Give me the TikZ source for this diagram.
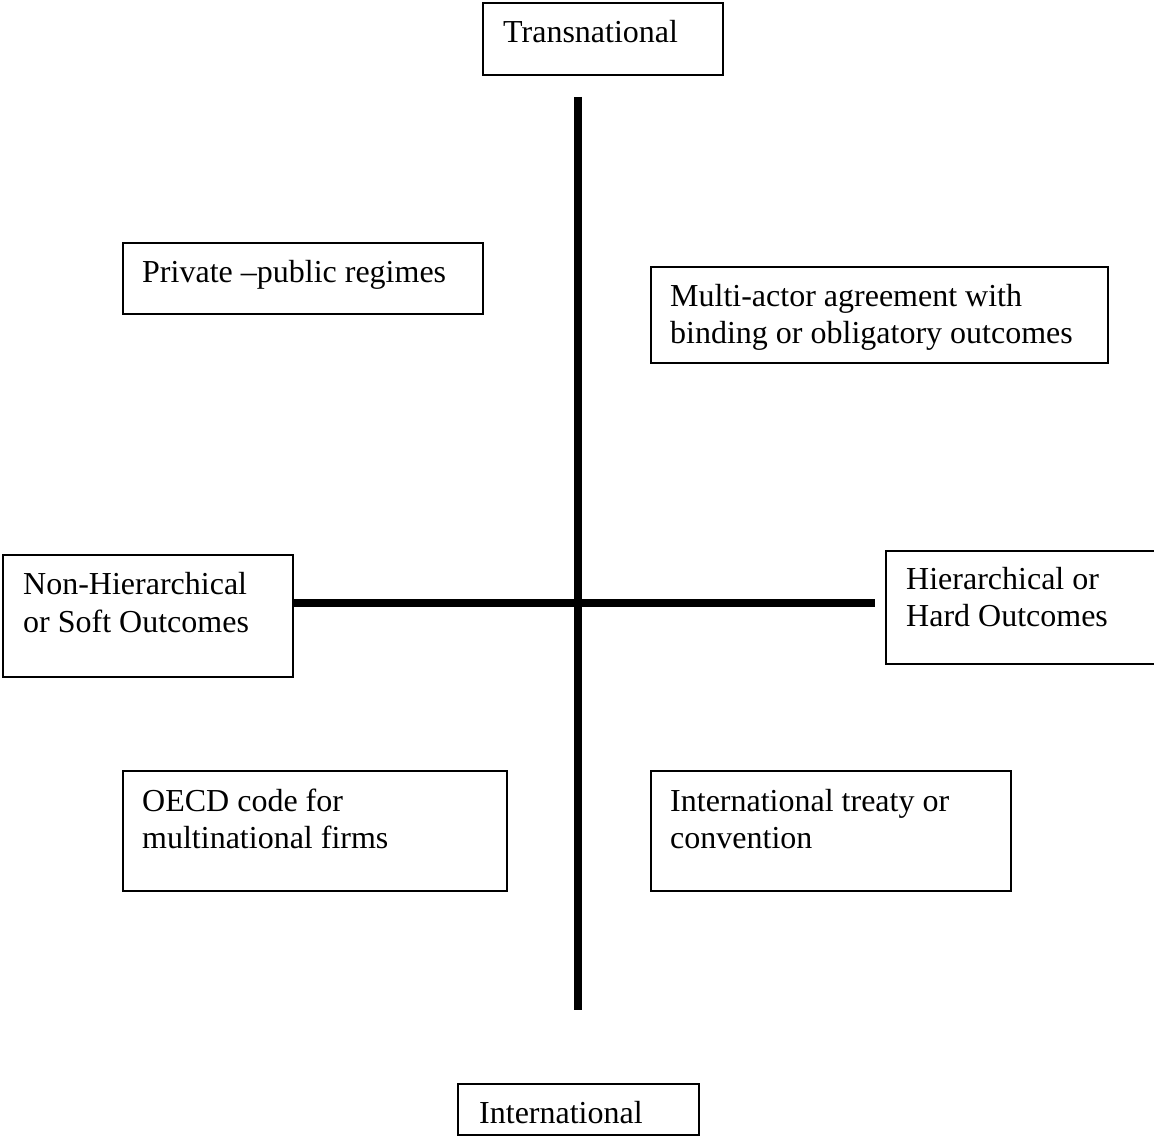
\documentclass[tikz,border=0pt]{standalone}
\usepackage{fontspec}
\setmainfont{Liberation Serif}
\begin{document}
\begin{tikzpicture}[x=1pt,y=-1pt,
  box/.style={draw=black, line width=1.6pt, inner sep=0pt, anchor=north west},
  txt/.style={anchor=base west, inner sep=0pt, font=\fontsize{32}{37}\selectfont},
  axis/.style={line width=8pt}]
\useasboundingbox (0,0) rectangle (1154,1139);
% boxes (x0,y0,w,h)
\node[box, minimum width=240pt, minimum height=72pt] (trans) at (482,2) {};
\node[box, minimum width=360pt, minimum height=71pt] (priv) at (122,242) {};
\node[box, minimum width=457pt, minimum height=96pt] (multi) at (650,266) {};
\node[box, minimum width=290pt, minimum height=122pt] (nonhier) at (2,554) {};
\node[box, minimum width=272pt, minimum height=113pt] (hier) at (885,550) {};
\node[box, minimum width=384pt, minimum height=120pt] (oecd) at (122,770) {};
\node[box, minimum width=360pt, minimum height=120pt] (treaty) at (650,770) {};
\node[box, minimum width=241pt, minimum height=51pt] (intl) at (457,1083) {};
% texts
\node[txt] (ttrans) at (503,43) {Transnational};
\node[txt] (tpriv) at (142,283) {Private –public regimes};
\node[txt] (tmulti1) at (670,307) {Multi-actor agreement with};
\node[txt] (tmulti2) at (670,344) {binding or obligatory outcomes};
\node[txt] (tnon1) at (23,594) {Non-Hierarchical};
\node[txt] (tnon2) at (23,632) {or Soft Outcomes};
\node[txt] (thier1) at (906,589) {Hierarchical or};
\node[txt] (thier2) at (906,626) {Hard Outcomes};
\node[txt] (toecd1) at (142,811) {OECD code for};
\node[txt] (toecd2) at (142,848) {multinational firms};
\node[txt] (ttreaty1) at (670,811) {International treaty or};
\node[txt] (ttreaty2) at (670,848) {convention};
\node[txt] (tintl) at (479,1123) {International};
% axes
\coordinate (vtop) at (578,97);
\coordinate (vbot) at (578,1010);
\coordinate (hend) at (875,602.5);
\draw[axis] (vtop) -- (vbot);
\draw[axis] (nonhier.east |- hend) -- (hend);
\end{tikzpicture}
\end{document}
